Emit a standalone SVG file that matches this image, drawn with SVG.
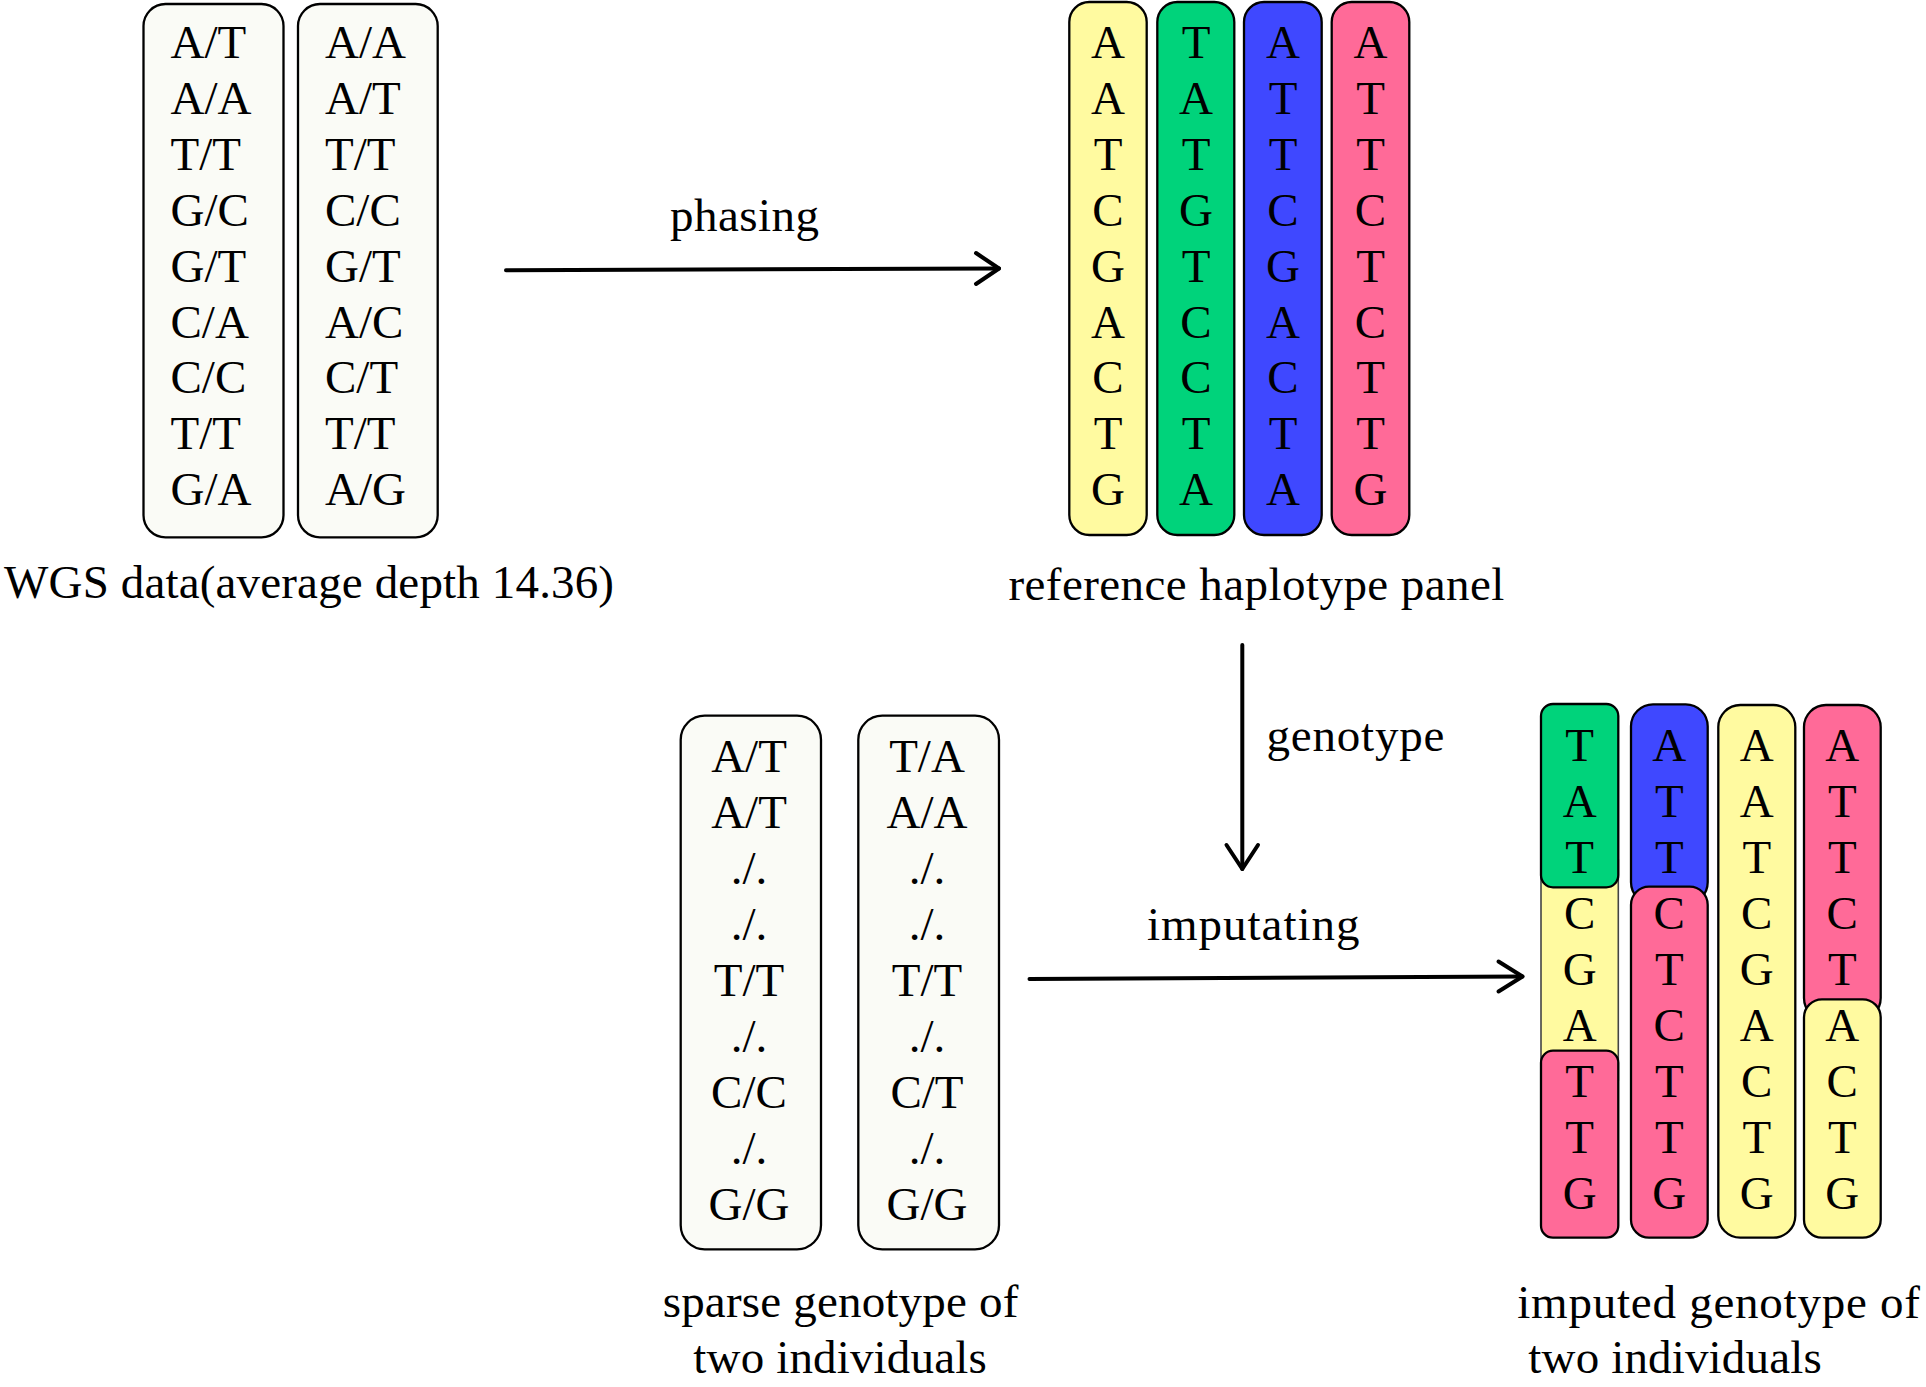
<svg xmlns="http://www.w3.org/2000/svg" width="1926" height="1387" viewBox="0 0 1926 1387">
<style>
text{font-family:"Liberation Serif","Times New Roman",serif;font-size:47px;fill:#000}
.box{fill:#FAFBF6;stroke:#000;stroke-width:2.3}
.seg{stroke:#000;stroke-width:2.3}
.y{fill:#FFFAA0}.g{fill:#00D37B}.b{fill:#3F48FF}.p{fill:#FF6A98}
.c{text-anchor:middle}
.conn{fill:none;stroke:#000;stroke-width:4;stroke-linecap:round;stroke-linejoin:round}
</style>
<rect width="1926" height="1387" fill="#fff"/>

<g id="wgs-data">
<rect class="box" x="143.5" y="4" width="140" height="533.3" rx="22"/>
<rect class="box" x="298" y="4" width="139.7" height="533.3" rx="22"/>
<g>
<text x="170.5" y="58.3">A/T</text><text x="170.5" y="114.2">A/A</text><text x="170.5" y="170">T/T</text>
<text x="170.5" y="225.9">G/C</text><text x="170.5" y="281.7">G/T</text><text x="170.5" y="337.6">C/A</text>
<text x="170.5" y="393.4">C/C</text><text x="170.5" y="449.3">T/T</text><text x="170.5" y="505.1">G/A</text>
</g>
<g>
<text x="325" y="58.3">A/A</text><text x="325" y="114.2">A/T</text><text x="325" y="170">T/T</text>
<text x="325" y="225.9">C/C</text><text x="325" y="281.7">G/T</text><text x="325" y="337.6">A/C</text>
<text x="325" y="393.4">C/T</text><text x="325" y="449.3">T/T</text><text x="325" y="505.1">A/G</text>
</g>
<text x="4" y="598" textLength="610" lengthAdjust="spacing">WGS data(average depth 14.36)</text>
</g>

<g id="reference-panel">
<rect class="seg y" x="1069.3" y="2" width="77.4" height="533" rx="20"/>
<rect class="seg g" x="1157.3" y="2" width="77" height="533" rx="20"/>
<rect class="seg b" x="1244" y="2" width="77.7" height="533" rx="20"/>
<rect class="seg p" x="1331.7" y="2" width="77.6" height="533" rx="20"/>
<g class="c">
<text x="1108" y="58.3">A</text><text x="1108" y="114.2">A</text><text x="1108" y="170">T</text><text x="1108" y="225.9">C</text><text x="1108" y="281.7">G</text><text x="1108" y="337.6">A</text><text x="1108" y="393.4">C</text><text x="1108" y="449.3">T</text><text x="1108" y="505.1">G</text>
<text x="1196" y="58.3">T</text><text x="1196" y="114.2">A</text><text x="1196" y="170">T</text><text x="1196" y="225.9">G</text><text x="1196" y="281.7">T</text><text x="1196" y="337.6">C</text><text x="1196" y="393.4">C</text><text x="1196" y="449.3">T</text><text x="1196" y="505.1">A</text>
<text x="1283" y="58.3">A</text><text x="1283" y="114.2">T</text><text x="1283" y="170">T</text><text x="1283" y="225.9">C</text><text x="1283" y="281.7">G</text><text x="1283" y="337.6">A</text><text x="1283" y="393.4">C</text><text x="1283" y="449.3">T</text><text x="1283" y="505.1">A</text>
<text x="1370.5" y="58.3">A</text><text x="1370.5" y="114.2">T</text><text x="1370.5" y="170">T</text><text x="1370.5" y="225.9">C</text><text x="1370.5" y="281.7">T</text><text x="1370.5" y="337.6">C</text><text x="1370.5" y="393.4">T</text><text x="1370.5" y="449.3">T</text><text x="1370.5" y="505.1">G</text>
</g>
<text x="1008.4" y="600" textLength="496" lengthAdjust="spacing">reference haplotype panel</text>
</g>

<g id="sparse-genotype">
<rect class="box" x="680.7" y="715.7" width="140.3" height="533.6" rx="24"/>
<rect class="box" x="858.3" y="715.7" width="140.7" height="533.6" rx="24"/>
<g class="c">
<text x="749" y="771.7">A/T</text><text x="749" y="827.7">A/T</text><text x="749" y="883.7">./.</text><text x="749" y="939.7">./.</text><text x="749" y="995.7">T/T</text><text x="749" y="1051.7">./.</text><text x="749" y="1107.7">C/C</text><text x="749" y="1163.7">./.</text><text x="749" y="1219.7">G/G</text>
<text x="927" y="771.7">T/A</text><text x="927" y="827.7">A/A</text><text x="927" y="883.7">./.</text><text x="927" y="939.7">./.</text><text x="927" y="995.7">T/T</text><text x="927" y="1051.7">./.</text><text x="927" y="1107.7">C/T</text><text x="927" y="1163.7">./.</text><text x="927" y="1219.7">G/G</text>
</g>
<text x="662.7" y="1316.7" textLength="355.6" lengthAdjust="spacing">sparse genotype of</text>
<text x="693.3" y="1372.7" textLength="293.4" lengthAdjust="spacing">two individuals</text>
</g>

<g id="imputed-genotype">
<rect class="y" x="1541" y="860" width="77.3" height="220" stroke="#444" stroke-width="1.6"/>
<rect class="seg g" x="1541" y="704" width="77.3" height="183.3" rx="12"/>
<rect class="seg p" x="1541" y="1050.7" width="77.3" height="187" rx="12"/>
<rect class="seg b" x="1631" y="704.3" width="76.7" height="200" rx="22"/>
<rect class="seg p" x="1631" y="886.7" width="76.7" height="351" rx="18"/>
<rect class="seg y" x="1718.3" y="705" width="77" height="532.7" rx="22"/>
<rect class="seg p" x="1804" y="705" width="76.7" height="315" rx="22"/>
<rect class="seg y" x="1804" y="999.3" width="76.7" height="238.4" rx="18"/>
<g class="c">
<text x="1579.7" y="760.7">T</text><text x="1579.7" y="816.7">A</text><text x="1579.7" y="872.7">T</text><text x="1579.7" y="928.7">C</text><text x="1579.7" y="984.7">G</text><text x="1579.7" y="1040.7">A</text><text x="1579.7" y="1096.7">T</text><text x="1579.7" y="1152.7">T</text><text x="1579.7" y="1208.7">G</text>
<text x="1669.3" y="760.7">A</text><text x="1669.3" y="816.7">T</text><text x="1669.3" y="872.7">T</text><text x="1669.3" y="928.7">C</text><text x="1669.3" y="984.7">T</text><text x="1669.3" y="1040.7">C</text><text x="1669.3" y="1096.7">T</text><text x="1669.3" y="1152.7">T</text><text x="1669.3" y="1208.7">G</text>
<text x="1756.8" y="760.7">A</text><text x="1756.8" y="816.7">A</text><text x="1756.8" y="872.7">T</text><text x="1756.8" y="928.7">C</text><text x="1756.8" y="984.7">G</text><text x="1756.8" y="1040.7">A</text><text x="1756.8" y="1096.7">C</text><text x="1756.8" y="1152.7">T</text><text x="1756.8" y="1208.7">G</text>
<text x="1842.3" y="760.7">A</text><text x="1842.3" y="816.7">T</text><text x="1842.3" y="872.7">T</text><text x="1842.3" y="928.7">C</text><text x="1842.3" y="984.7">T</text><text x="1842.3" y="1040.7">A</text><text x="1842.3" y="1096.7">C</text><text x="1842.3" y="1152.7">T</text><text x="1842.3" y="1208.7">G</text>
</g>
<text x="1517.3" y="1318.3" textLength="402.7" lengthAdjust="spacing">imputed genotype of</text>
<text x="1528.3" y="1372.7" textLength="293.4" lengthAdjust="spacing">two individuals</text>
</g>

<g id="connectors">
<g id="phasing-arrow">
<path class="conn" d="M506 270.3 L999 268.5"/>
<path class="conn" d="M976 253 L999 268.5 L976 284"/>
<text x="670" y="231" textLength="149" lengthAdjust="spacing">phasing</text>
</g>
<g id="genotype-arrow">
<path class="conn" d="M1242.3 645 L1242.3 869"/>
<path class="conn" d="M1226.5 845 L1242.3 869 L1258 845"/>
<text x="1266.4" y="751" textLength="178" lengthAdjust="spacing">genotype</text>
</g>
<g id="imputing-arrow">
<path class="conn" d="M1029.5 979 L1522.5 976.5"/>
<path class="conn" d="M1498.5 961.5 L1522.5 976.5 L1498.5 991.5"/>
<text x="1147" y="940" textLength="212.5" lengthAdjust="spacing">imputating</text>
</g>
</g>
</svg>
